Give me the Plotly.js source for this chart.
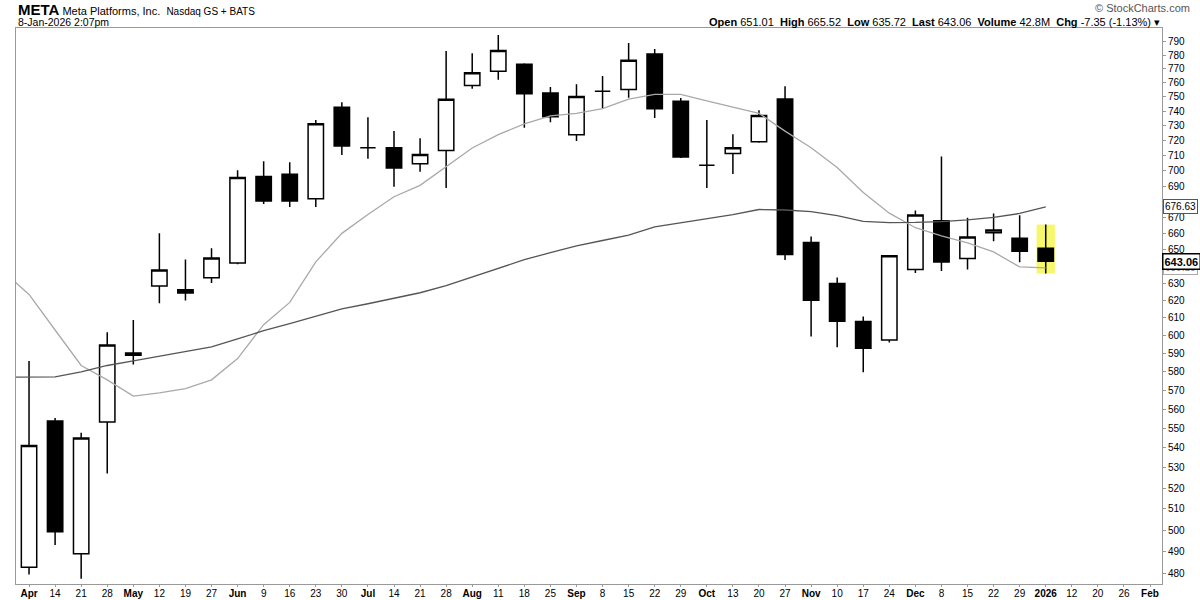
<!DOCTYPE html>
<html><head><meta charset="utf-8">
<script src="https://cdn.plot.ly/plotly-3.0.1.min.js"></script>
<style>html,body{margin:0;padding:0;background:#fff}#chart{width:1200px;height:600px}</style>
</head><body><div id="chart"></div>
<script>
// Weekly x-axis tick labels (one per week, Apr 7 2025 .. Feb 2 2026)
const tickLabels = ['Apr','14','21','28','May','12','19','27','Jun','9','16','23','30','Jul','14','21','28','Aug','11','18','25','Sep','8','15','22','29','Oct','13','20','27','Nov','10','17','24','Dec','8','15','22','29','2026','12','20','26','Feb'];
const monthLabels = ['Apr','May','Jun','Jul','Aug','Sep','Oct','Nov','Dec','2026','Feb'];

// Weekly OHLC (40 weeks, Apr 7 2025 .. Jan 5 2026)
const openP  = [482.9,553.8,489.0,553.2,588.9,628.4,626.1,633.2,642.1,696.2,697.6,681.9,742.8,715.2,715.2,704.5,713.3,758.0,768.2,773.3,752.7,724.0,754.0,755.3,780.8,747.0,703.6,711.3,719.2,748.5,654.4,629.9,607.8,597.4,638.1,668.0,644.7,660.5,657.1,651.01];
const highP  = [585.8,555.3,547.7,601.8,608.7,660.1,644.2,651.0,700.3,706.2,705.5,734.0,746.3,735.9,726.4,721.6,782.9,781.3,794.7,774.1,757.0,759.0,764.9,788.9,784.5,749.3,734.0,724.2,740.8,757.5,658.1,633.4,610.7,646.6,674.3,709.3,669.8,672.5,671.4,665.52];
const lowP   = [479.6,493.1,477.7,527.2,583.8,618.3,619.9,630.1,641.3,678.5,676.6,676.6,710.4,707.8,689.5,699.2,688.8,755.7,762.1,728.6,732.5,719.7,741.8,749.5,735.4,708.3,688.8,697.8,718.5,643.8,599.4,593.3,579.6,596.0,636.0,637.2,638.1,655.3,642.5,635.72];
const closeP = [541.2,499.2,545.0,594.6,590.1,637.9,624.2,645.1,695.5,680.4,680.4,731.5,716.4,715.2,701.8,710.7,748.3,767.2,783.4,752.3,736.2,750.3,754.0,776.2,741.8,709.0,703.6,715.2,737.1,647.1,620.1,608.0,592.8,646.4,671.6,642.7,657.9,662.2,649.2,643.06];

// Moving averages (41 points: week before Apr 7 .. Jan 5)
const maFast = [637.2,623.4,603.0,583.3,575.5,566.8,568.5,570.8,575.5,587.1,606.0,618.8,642.7,660.1,671.8,683.1,690.4,702.7,715.0,724.0,731.3,736.9,738.6,741.8,748.5,751.8,751.8,747.3,743.0,738.6,726.4,715.2,702.0,685.8,672.7,663.6,658.6,654.2,648.7,639.7,639.1];
const maSlow = [576.9,576.9,577.1,579.8,583.3,585.8,588.3,591.1,593.6,598.0,602.6,606.6,611.0,615.1,618.0,621.1,624.4,628.6,633.8,638.9,644.0,648.3,652.4,655.7,659.0,664.1,666.7,669.2,671.8,675.0,674.7,673.6,671.1,667.6,666.8,666.9,667.4,668.5,670.0,672.5,676.63];

// Y-axis ticks (labels hidden under the value boxes are left blank)
const yTicks = [480,490,500,510,520,530,540,550,560,570,580,590,600,610,620,630,640,650,660,670,680,690,700,710,720,730,740,750,760,770,780,790];
const hiddenYLabels = [640,680];

const FONT = 'Arial, "Liberation Sans", sans-serif';
const candleX = openP.map((_, i) => i);
const maX = maFast.map((_, i) => i - 1);
const last = openP.length - 1;

const traces = [
  {type:'scatter', mode:'lines', x:maX, y:maFast, line:{color:'#a9a9a9', width:1.3}, hoverinfo:'skip'},
  {type:'scatter', mode:'lines', x:maX, y:maSlow, line:{color:'#555555', width:1.3}, hoverinfo:'skip'},
  {
    type:'candlestick', x:candleX, open:openP, high:highP, low:lowP, close:closeP,
    increasing:{line:{color:'#000', width:1.5}, fillcolor:'#ffffff'},
    decreasing:{line:{color:'#000', width:1.5}, fillcolor:'#000000'},
    whiskerwidth:0, hoverinfo:'skip'
  }
];

const ticktext = tickLabels.map(t => monthLabels.includes(t) ? '<b>'+t+'</b>' : t);

const layout = {
  width:1200, height:600,
  margin:{l:16, r:38, t:28, b:16},
  paper_bgcolor:'#fff', plot_bgcolor:'#fff',
  showlegend:false, hovermode:false,
  boxgap:0.41, boxgroupgap:0,
  font:{family:FONT, color:'#000', size:10},
  xaxis:{
    range:[-0.5, 43.46], tickvals:tickLabels.map((_, i) => i), ticktext:ticktext,
    tickfont:{size:10, family:FONT, color:'#000'},
    showline:true, linecolor:'#999', linewidth:1, mirror:true,
    ticks:'outside', ticklen:2, tickcolor:'#999', ticklabelstandoff:-2,
    showgrid:false, zeroline:false, rangeslider:{visible:false}, fixedrange:true
  },
  yaxis:{
    type:'log', side:'right', range:[Math.log10(475.4), Math.log10(800)],
    tickvals:yTicks, ticktext:yTicks.map(v => hiddenYLabels.includes(v) ? '' : String(v)),
    tickfont:{size:10, family:FONT, color:'#000'},
    showline:true, linecolor:'#999', linewidth:1, mirror:true,
    ticks:'outside', ticklen:3, tickcolor:'#999',
    showgrid:false, zeroline:false, fixedrange:true
  },
  shapes:[
    {type:'rect', xref:'x', yref:'y', layer:'below',
     x0:last-0.35, x1:last+0.35, y0:lowP[last], y1:highP[last],
     fillcolor:'#f7f76b', line:{width:0}}
  ],
  annotations:[
    {xref:'paper', yref:'paper', x:0, y:1.0324, xanchor:'left', yanchor:'middle', showarrow:false,
     text:"<span style='font-size:15px'><b>META</b></span> Meta Platforms, Inc.  <span style='font-size:10px'>Nasdaq GS + BATS</span>",
     font:{size:11, family:FONT, color:'#000'}},
    {xref:'paper', yref:'paper', x:0, y:1.0108, xanchor:'left', yanchor:'middle', showarrow:false,
     text:'8-Jan-2026 2:07pm', font:{size:10.5, family:FONT, color:'#000'}},
    {xref:'paper', yref:'paper', x:1, y:1.0108, xanchor:'right', yanchor:'middle', showarrow:false,
     text:'<b>Open</b> 651.01&nbsp;&nbsp;<b>High</b> 665.52&nbsp;&nbsp;<b>Low</b> 635.72&nbsp;&nbsp;<b>Last</b> 643.06&nbsp;&nbsp;<b>Volume</b> 42.8M&nbsp;&nbsp;<b>Chg</b> -7.35 (-1.13%) ▾',
     font:{size:11, family:FONT, color:'#000'}},
    {xref:'paper', yref:'paper', x:1.0262, y:1.036, xanchor:'right', yanchor:'middle', showarrow:false,
     text:'© StockCharts.com', font:{size:11, family:FONT, color:'#555'}},
    {xref:'paper', yref:'y', x:1.001, y:Math.log10(maSlow[maSlow.length-1]), xanchor:'left', yanchor:'middle', showarrow:false,
     text:maSlow[maSlow.length-1].toFixed(2), font:{size:10, family:FONT, color:'#000'},
     bgcolor:'#fff', bordercolor:'#555', borderwidth:1, borderpad:1},
    {xref:'paper', yref:'y', x:1.001, y:Math.log10(maFast[maFast.length-1]), xanchor:'left', yanchor:'middle', showarrow:false,
     text:maFast[maFast.length-1].toFixed(2), font:{size:10, family:FONT, color:'#888'},
     bgcolor:'#fff', bordercolor:'#aaa', borderwidth:1, borderpad:1},
    {xref:'paper', yref:'y', x:1.0, y:Math.log10(closeP[last]), xanchor:'left', yanchor:'middle', showarrow:false,
     text:'<b>'+closeP[last].toFixed(2)+'</b>', font:{size:11, family:FONT, color:'#000'},
     bgcolor:'#fff', bordercolor:'#000', borderwidth:1.5, borderpad:1}
  ]
};

Plotly.newPlot('chart', traces, layout, {staticPlot:true, displayModeBar:false});
</script>
</body></html>
